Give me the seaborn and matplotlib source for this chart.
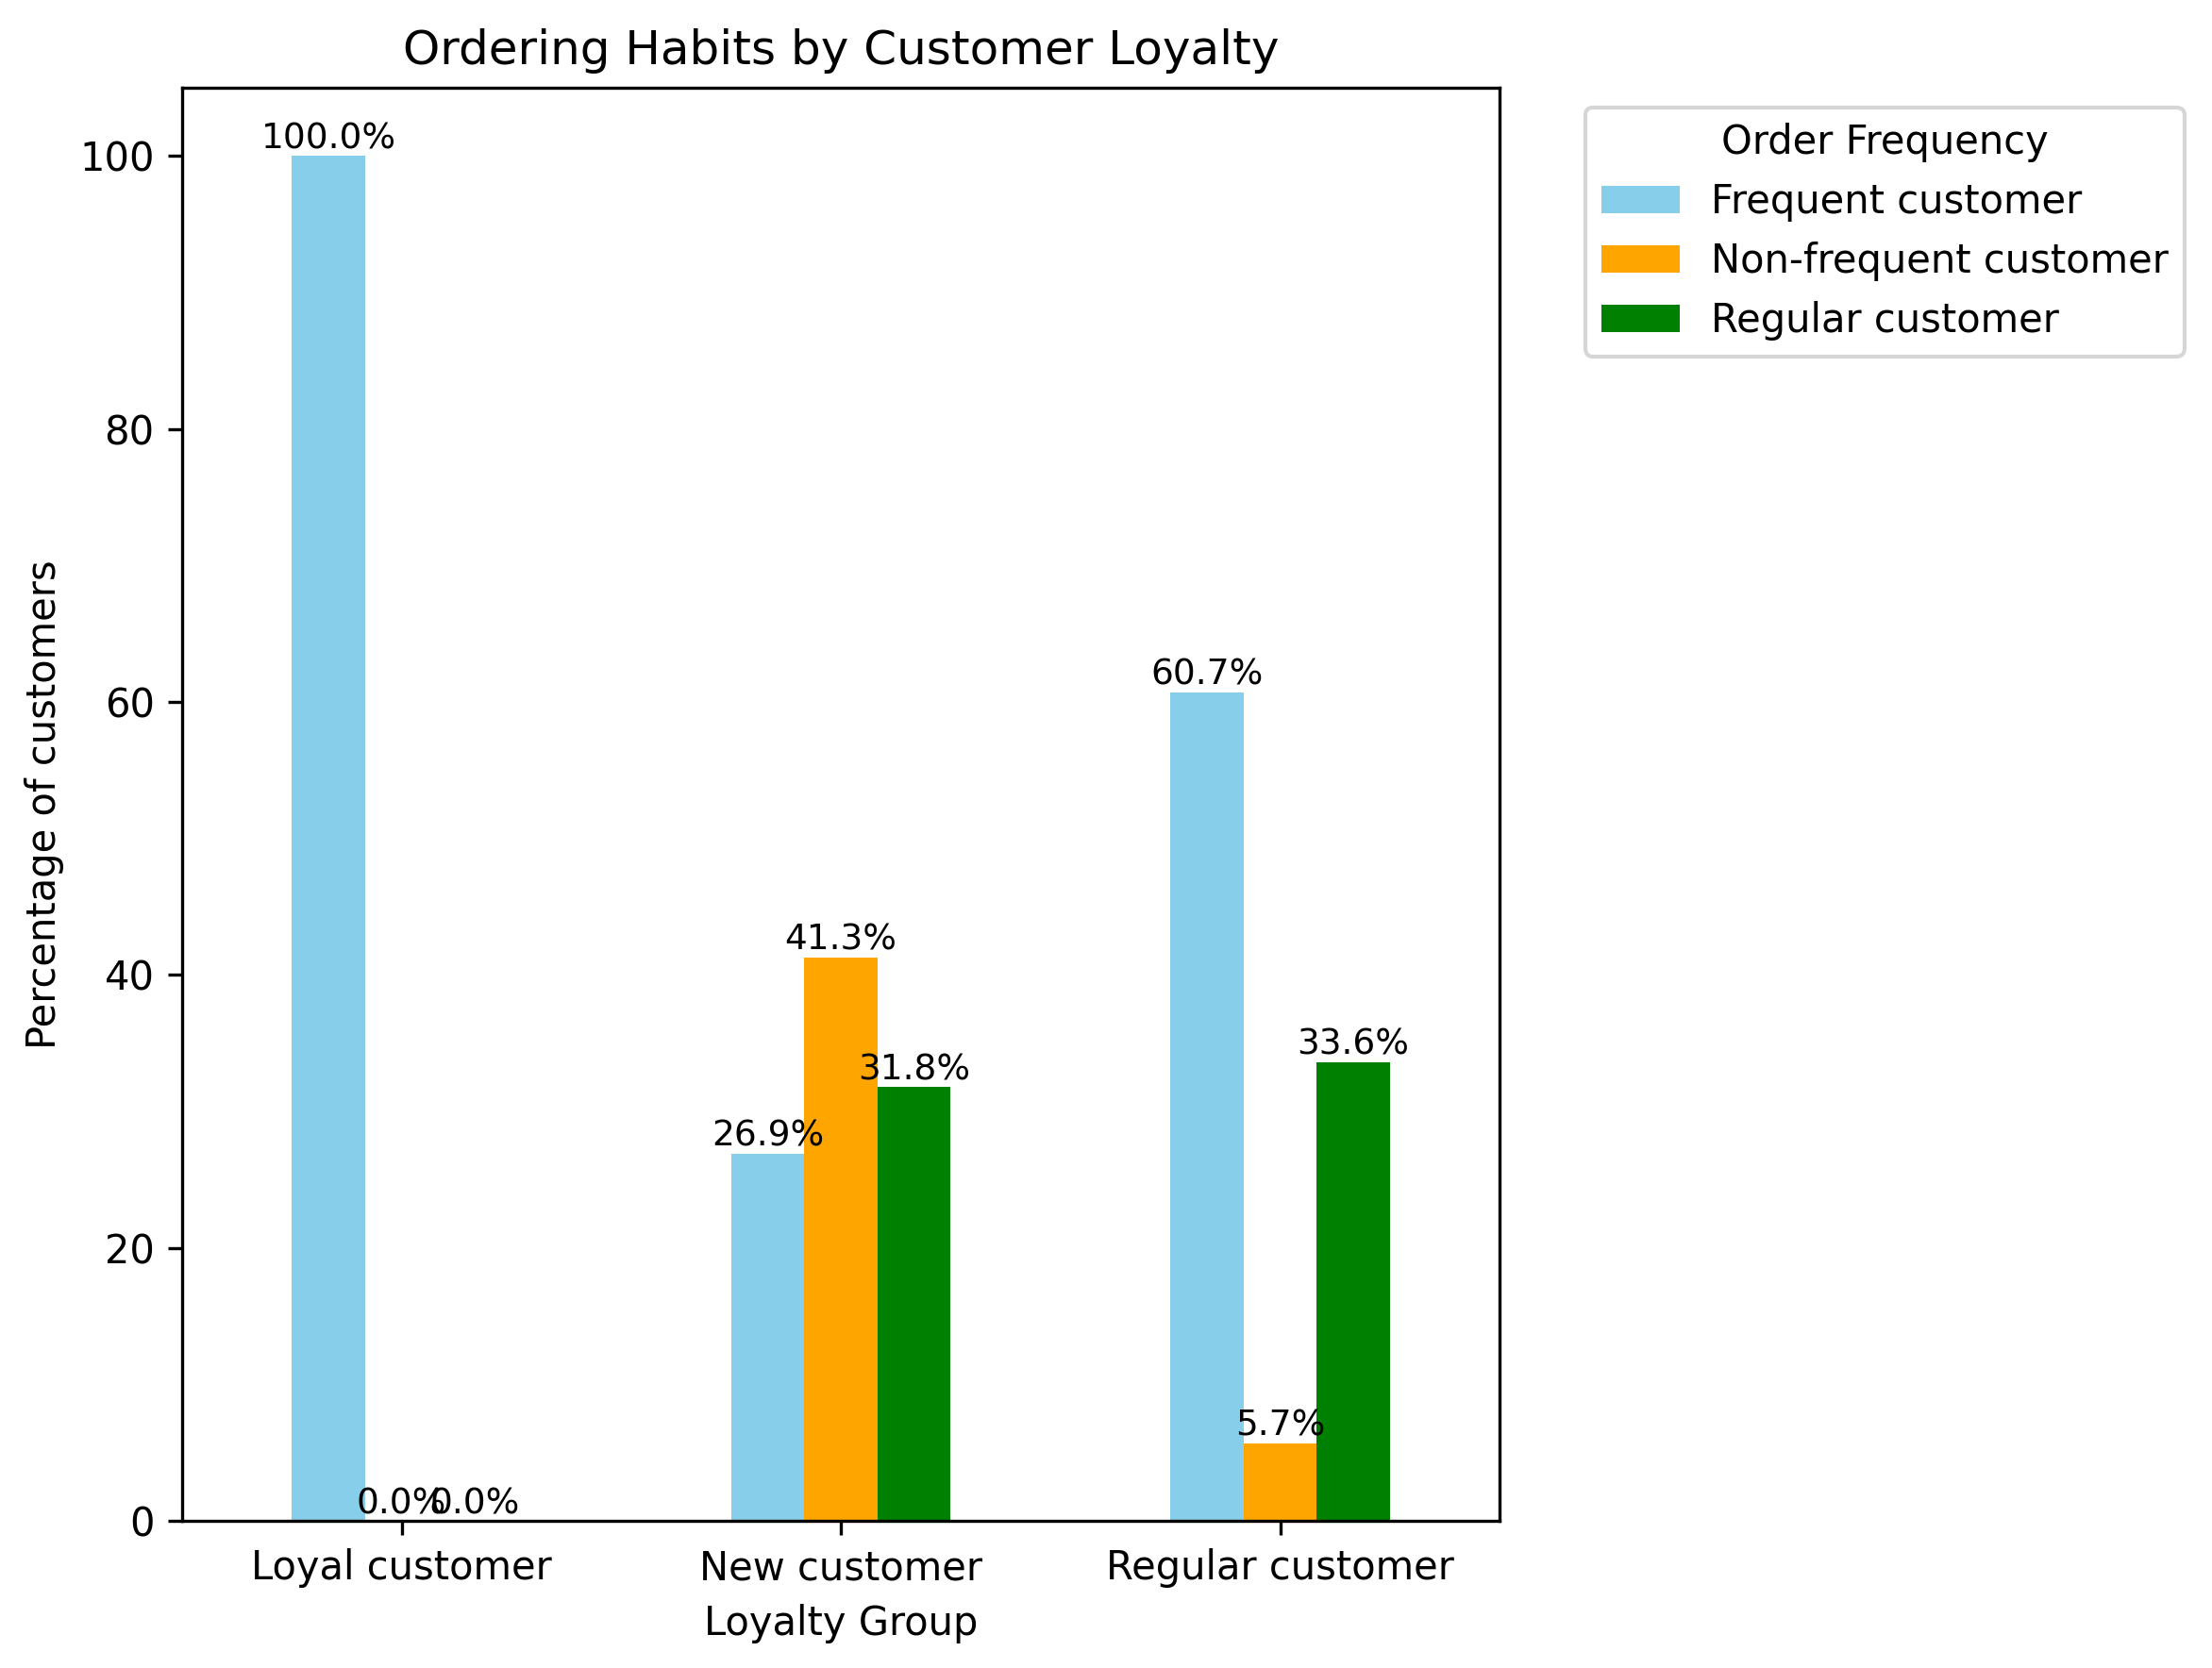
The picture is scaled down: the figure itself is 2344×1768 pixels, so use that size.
import pandas as pd
import matplotlib
matplotlib.use("Agg")
import matplotlib.pyplot as plt
import seaborn as sns

# data
loyalty_groups = ["Loyal customer", "New customer", "Regular customer"]
frequency_groups = ["Frequent customer", "Non-frequent customer", "Regular customer"]
frequent_pct = [100.0, 26.9, 60.7]
non_frequent_pct = [0.0, 41.3, 5.7]
regular_pct = [0.0, 31.8, 33.6]
bar_colors = ["skyblue", "orange", "green"]

# long format for seaborn
rows = []
for freq, values in zip(frequency_groups, [frequent_pct, non_frequent_pct, regular_pct]):
    for group, v in zip(loyalty_groups, values):
        rows.append({"Loyalty Group": group, "Order Frequency": freq, "Percentage": v})
df = pd.DataFrame(rows)

fig, ax = plt.subplots(figsize=(2344 / 300, 1768 / 300), dpi=300)
fig.subplots_adjust(left=0.0823, right=0.678, bottom=0.0882, top=0.9474)

sns.barplot(
    data=df,
    x="Loyalty Group",
    y="Percentage",
    hue="Order Frequency",
    hue_order=frequency_groups,
    order=loyalty_groups,
    palette=bar_colors,
    width=0.5,
    saturation=1,
    linewidth=0,
    errorbar=None,
    ax=ax,
)

for container in ax.containers:
    ax.bar_label(container, fmt="%.1f%%", fontsize=9)

ax.set_title("Ordering Habits by Customer Loyalty", fontsize=12)
ax.set_xlabel("Loyalty Group")
ax.set_ylabel("Percentage of customers")
ax.set_xlim(-0.5, 2.5)
ax.set_ylim(0, 105)
ax.legend(title="Order Frequency", bbox_to_anchor=(1.05, 1), loc="upper left")

fig.savefig("out.png", dpi=300)
